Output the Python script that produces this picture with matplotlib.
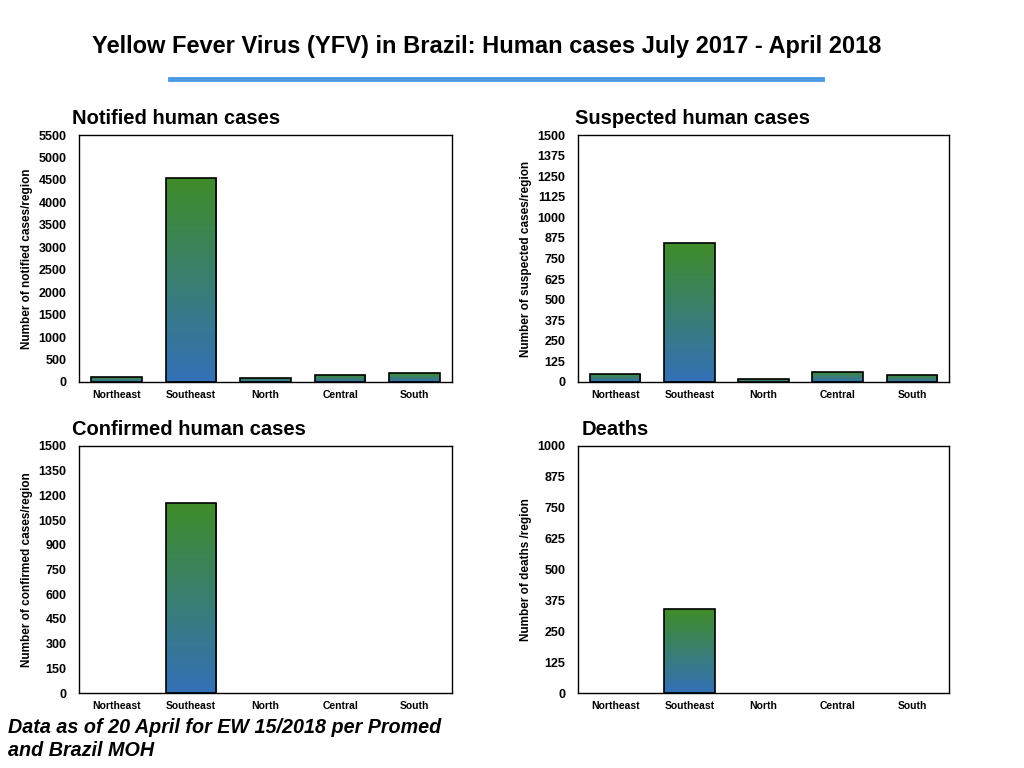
import numpy as np
import matplotlib
matplotlib.use("Agg")
import matplotlib.pyplot as plt

plt.rcParams['font.family'] = ['Liberation Sans', 'DejaVu Sans']

regions = ['Northeast', 'Southeast', 'North', 'Central', 'South']
notified = [110, 4550, 90, 155, 200]
suspected = [49, 843, 18, 61, 42]
confirmed = [0, 1154, 0, 0, 0]
deaths = [0, 340, 0, 0, 0]

top_green = np.array([0.25, 0.55, 0.16])
bottom_blue = np.array([0.20, 0.44, 0.72])


def gradient_bars(ax, values, ymax, step, title, ylabel, title_x):
    x = np.arange(len(regions))
    bars = ax.bar(x, values, width=0.68, color='none', edgecolor='black', linewidth=1.2, zorder=3)
    t = np.linspace(0, 1, 256)[:, None]
    grad = (top_green * (1 - t) + bottom_blue * t).reshape(256, 1, 3)
    for b, v in zip(bars, values):
        if v <= 0:
            b.set_linewidth(0)
            continue
        x0, w = b.get_x(), b.get_width()
        im = ax.imshow(grad, extent=(x0, x0 + w, 0, v), origin='upper', aspect='auto', zorder=2)
        im.set_clip_path(b)
    ax.set_xlim(-0.5, len(regions) - 0.5)
    ax.set_ylim(0, ymax)
    ax.set_yticks(np.arange(0, ymax + 1, step))
    ax.set_xticks(x)
    ax.set_xticklabels(regions, fontsize=7.5, fontweight='bold')
    for lbl in ax.get_yticklabels():
        lbl.set_fontsize(9)
        lbl.set_fontweight('bold')
    ax.tick_params(axis='y', length=0, pad=9)
    ax.tick_params(axis='x', length=0, pad=5.5)
    ax.set_ylabel(ylabel, fontsize=8.5, fontweight='bold', labelpad=4)
    for s in ax.spines.values():
        s.set_linewidth(1.0)
    pos = ax.get_position()
    fig.text(title_x, pos.y1 + 0.021, title, fontsize=14.5, fontweight='bold', ha='left', va='center')


fig = plt.figure(figsize=(10.24, 7.68), dpi=100)

h = 247 / 768
ax1 = fig.add_axes([79 / 1024, 386 / 768, 373 / 1024, h])
ax2 = fig.add_axes([578 / 1024, 386 / 768, 371 / 1024, h])
ax3 = fig.add_axes([79 / 1024, 75 / 768, 373 / 1024, h])
ax4 = fig.add_axes([578 / 1024, 75 / 768, 371 / 1024, h])

gradient_bars(ax1, notified, 5500, 500, 'Notified human cases', 'Number of notified cases/region', 72 / 1024)
gradient_bars(ax2, suspected, 1500, 125, 'Suspected human cases', 'Number of suspected cases/region', 575 / 1024)
gradient_bars(ax3, confirmed, 1500, 150, 'Confirmed human cases', 'Number of confirmed cases/region', 72 / 1024)
gradient_bars(ax4, deaths, 1000, 125, 'Deaths', 'Number of deaths /region', 582 / 1024)

fig.text(487 / 1024, 1 - 46 / 768, 'Yellow Fever Virus (YFV) in Brazil: Human cases July 2017 - April 2018',
         fontsize=17, fontweight='bold', ha='center', va='center')
fig.add_artist(plt.Line2D([170 / 1024, 822 / 1024], [1 - 79 / 768, 1 - 79 / 768],
                          color='#4a9ae6', linewidth=3.5))
fig.text(8 / 1024, 1 - 739 / 768, 'Data as of 20 April for EW 15/2018 per Promed\nand Brazil MOH',
         fontsize=14.2, fontweight='bold', style='italic', ha='left', va='center', linespacing=1.25)

fig.savefig('out.png', dpi=100)
